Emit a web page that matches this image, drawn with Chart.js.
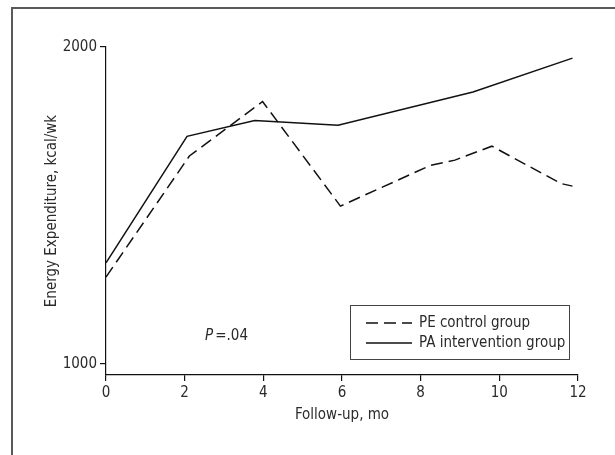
<!DOCTYPE html>
<html>
<head>
<meta charset="utf-8">
<script src="https://cdn.jsdelivr.net/npm/chart.js@4.4.1/dist/chart.umd.min.js"></script>
<style>
  body { margin: 0; background: #fff; }
  #wrap { position: relative; width: 615px; height: 455px; overflow: hidden; }
  #frame { position: absolute; left: 11px; top: 7px; width: 700px; height: 600px;
           border-left: 2px solid #5a5a5a; border-top: 2px solid #5a5a5a; }
  canvas { position: absolute; left: 0; top: 0; }
</style>
</head>
<body>
<div id="wrap">
  <div id="frame"></div>
  <canvas id="chart" width="615" height="455"></canvas>
</div>
<script>
// data
var peMonths = [0, 2.12, 3.98, 5.96, 8.24, 8.87, 9.81, 11.57, 11.86];
var peValues = [1274, 1656, 1828, 1498, 1626, 1643, 1687, 1569, 1561];
var paMonths = [0, 2.06, 3.78, 5.90, 9.33, 11.86];
var paValues = [1319, 1718, 1768, 1753, 1858, 1965];
var xTicks = [0, 2, 4, 6, 8, 10, 12];
var yTicks = [1000, 2000];
var seriesNames = ["PE control group", "PA intervention group"];
var pNote = { x: 2.52, y: 1089, label: "P", text: "=.04" };

var FONT = "'DejaVu Sans Condensed', 'Liberation Sans Narrow', sans-serif";
var SIZE = 15;
var INK = "#111";
var TEXT = "#2a2a2a";

function toPoints(xs, ys) {
  return xs.map((x, i) => ({ x: x, y: ys[i] }));
}

// legend box + P value note
const notesPlugin = {
  id: "notes",
  afterDraw(chart) {
    const { ctx, chartArea, scales } = chart;
    ctx.save();
    // legend
    var right = chartArea.right - 9, bottom = chartArea.bottom - 16;
    var left = right - 219, top = bottom - 54;
    ctx.fillStyle = "#fff";
    ctx.fillRect(left, top, right - left, bottom - top);
    ctx.strokeStyle = "#444";
    ctx.lineWidth = 1;
    ctx.strokeRect(left + 0.5, top + 0.5, right - left, bottom - top);
    ctx.font = SIZE + "px " + FONT;
    ctx.textBaseline = "middle";
    chart.data.datasets.forEach((ds, i) => {
      var y = top + 18 + i * 20;
      ctx.beginPath();
      ctx.strokeStyle = INK;
      ctx.lineWidth = 1.5;
      ctx.setLineDash(ds.borderDash || []);
      ctx.moveTo(left + 16, y);
      ctx.lineTo(left + 62, y);
      ctx.stroke();
      ctx.setLineDash([]);
      ctx.fillStyle = TEXT;
      ctx.fillText(ds.label, left + 69, y);
    });
    // P = .04
    var px = scales.x.getPixelForValue(pNote.x);
    var py = scales.y.getPixelForValue(pNote.y);
    ctx.fillStyle = TEXT;
    ctx.font = "italic " + SIZE + "px " + FONT;
    ctx.fillText(pNote.label, px, py);
    var w = ctx.measureText(pNote.label).width;
    ctx.font = SIZE + "px " + FONT;
    ctx.fillText(pNote.text, px + w + 2, py);
    ctx.restore();
  }
};

function generateChart() {
  const ctx = document.getElementById("chart");
  return new Chart(ctx, {
    type: "line",
    data: {
      datasets: [
        {
          label: seriesNames[0],
          data: toPoints(peMonths, peValues),
          borderColor: INK,
          borderWidth: 1.5,
          borderDash: [12, 6],
          pointRadius: 0,
          tension: 0,
          fill: false,
        },
        {
          label: seriesNames[1],
          data: toPoints(paMonths, paValues),
          borderColor: INK,
          borderWidth: 1.5,
          pointRadius: 0,
          tension: 0,
          fill: false,
        },
      ],
    },
    options: {
      responsive: false,
      animation: false,
      layout: { padding: { left: 0, top: 47, right: 37, bottom: 0 } },
      plugins: { legend: { display: false }, tooltip: { enabled: false } },
      scales: {
        x: {
          type: "linear",
          min: 0,
          max: 12,
          afterBuildTicks: (s) => { s.ticks = xTicks.map((v) => ({ value: v })); },
          afterFit: (s) => { s.height = 80; },
          grid: { drawOnChartArea: false, drawTicks: true, tickLength: 6, color: INK, lineWidth: 1.2 },
          border: { color: INK, width: 1.2 },
          ticks: { color: TEXT, padding: 3, font: { family: FONT, size: SIZE }, maxRotation: 0,
                   callback: (v) => String(v) },
          title: {
            display: true,
            text: "Follow-up, mo",
            color: TEXT,
            font: { family: FONT, size: SIZE },
            padding: { top: 0, bottom: 31 },
          },
        },
        y: {
          min: 965,
          max: 2000,
          afterBuildTicks: (s) => { s.ticks = yTicks.map((v) => ({ value: v })); },
          afterFit: (s) => { s.width = 106; },
          grid: { drawOnChartArea: false, drawTicks: true, tickLength: 6, color: INK, lineWidth: 1.2 },
          border: { color: INK, width: 1.2 },
          ticks: { color: TEXT, padding: 3, font: { family: FONT, size: SIZE },
                   callback: (v) => String(v) },
          title: {
            display: true,
            text: "Energy Expenditure, kcal/wk",
            color: TEXT,
            font: { family: FONT, size: SIZE },
            padding: { top: 43, bottom: 0 },
          },
        },
      },
    },
    plugins: [notesPlugin],
  });
}

window.onload = function () {
  generateChart();
};
</script>
</body>
</html>
